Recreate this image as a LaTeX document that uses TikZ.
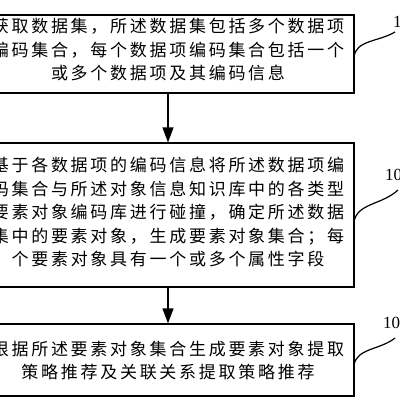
\documentclass[tikz,border=0pt]{standalone}
\usepackage{fontspec}
\setmainfont{Liberation Serif}
\newfontfamily\cjk[LetterSpace=16]{Noto Sans CJK SC}
\usetikzlibrary{arrows.meta}
\begin{document}
\begin{tikzpicture}[x=1pt,y=-1pt,
  box/.style={draw, line width=1.2pt, inner sep=0, minimum width=372pt},
  txt/.style={font=\cjk\fontsize{17}{23.5}\selectfont, align=center, inner sep=0},
  lbl/.style={font=\fontsize{17}{17}\selectfont, anchor=west, inner sep=0},
  arr/.style={line width=1.2pt, -{Triangle[length=15pt,width=11pt]}},
  lead/.style={line width=1.2pt}]
\useasboundingbox (0,0) rectangle (400,400);
\node[box, minimum height=78pt] (b1) at (168,54) {};
\node[box, minimum height=144pt] (b2) at (168,215) {};
\node[box, minimum height=72pt] (b3) at (168,360) {};
\node[txt] (t1) at (168,50) {获取数据集，所述数据集包括多个数据项\\编码集合，每个数据项编码集合包括一个\\或多个数据项及其编码信息};
\node[txt] (t2) at (168,212) {基于各数据项的编码信息将所述数据项编\\码集合与所述对象信息知识库中的各类型\\要素对象编码库进行碰撞，确定所述数据\\集中的要素对象，生成要素对象集合；每\\个要素对象具有一个或多个属性字段};
\node[txt] (t3) at (168,360.5) {根据所述要素对象集合生成要素对象提取\\策略推荐及关联关系提取策略推荐};
\draw[arr] (b1.south) -- (b2.north);
\draw[arr] (b2.south) -- (b3.north);
\node[lbl] (n1) at (393,22) {101};
\node[lbl] (n2) at (385,175) {102};
\node[lbl] (n3) at (383,323) {103};
\coordinate (a1) at (354,57);
\coordinate (e1) at (395,32);
\coordinate (a2) at (354,222);
\coordinate (e2) at (398,190);
\coordinate (a3) at (354,365);
\coordinate (e3) at (395,338);
\draw[lead] (a1) .. controls (356,40) and (378,42) .. (e1);
\draw[lead] (a2) .. controls (357,203) and (382,205) .. (e2);
\draw[lead] (a3) .. controls (357,348) and (380,350) .. (e3);
\end{tikzpicture}
\end{document}
